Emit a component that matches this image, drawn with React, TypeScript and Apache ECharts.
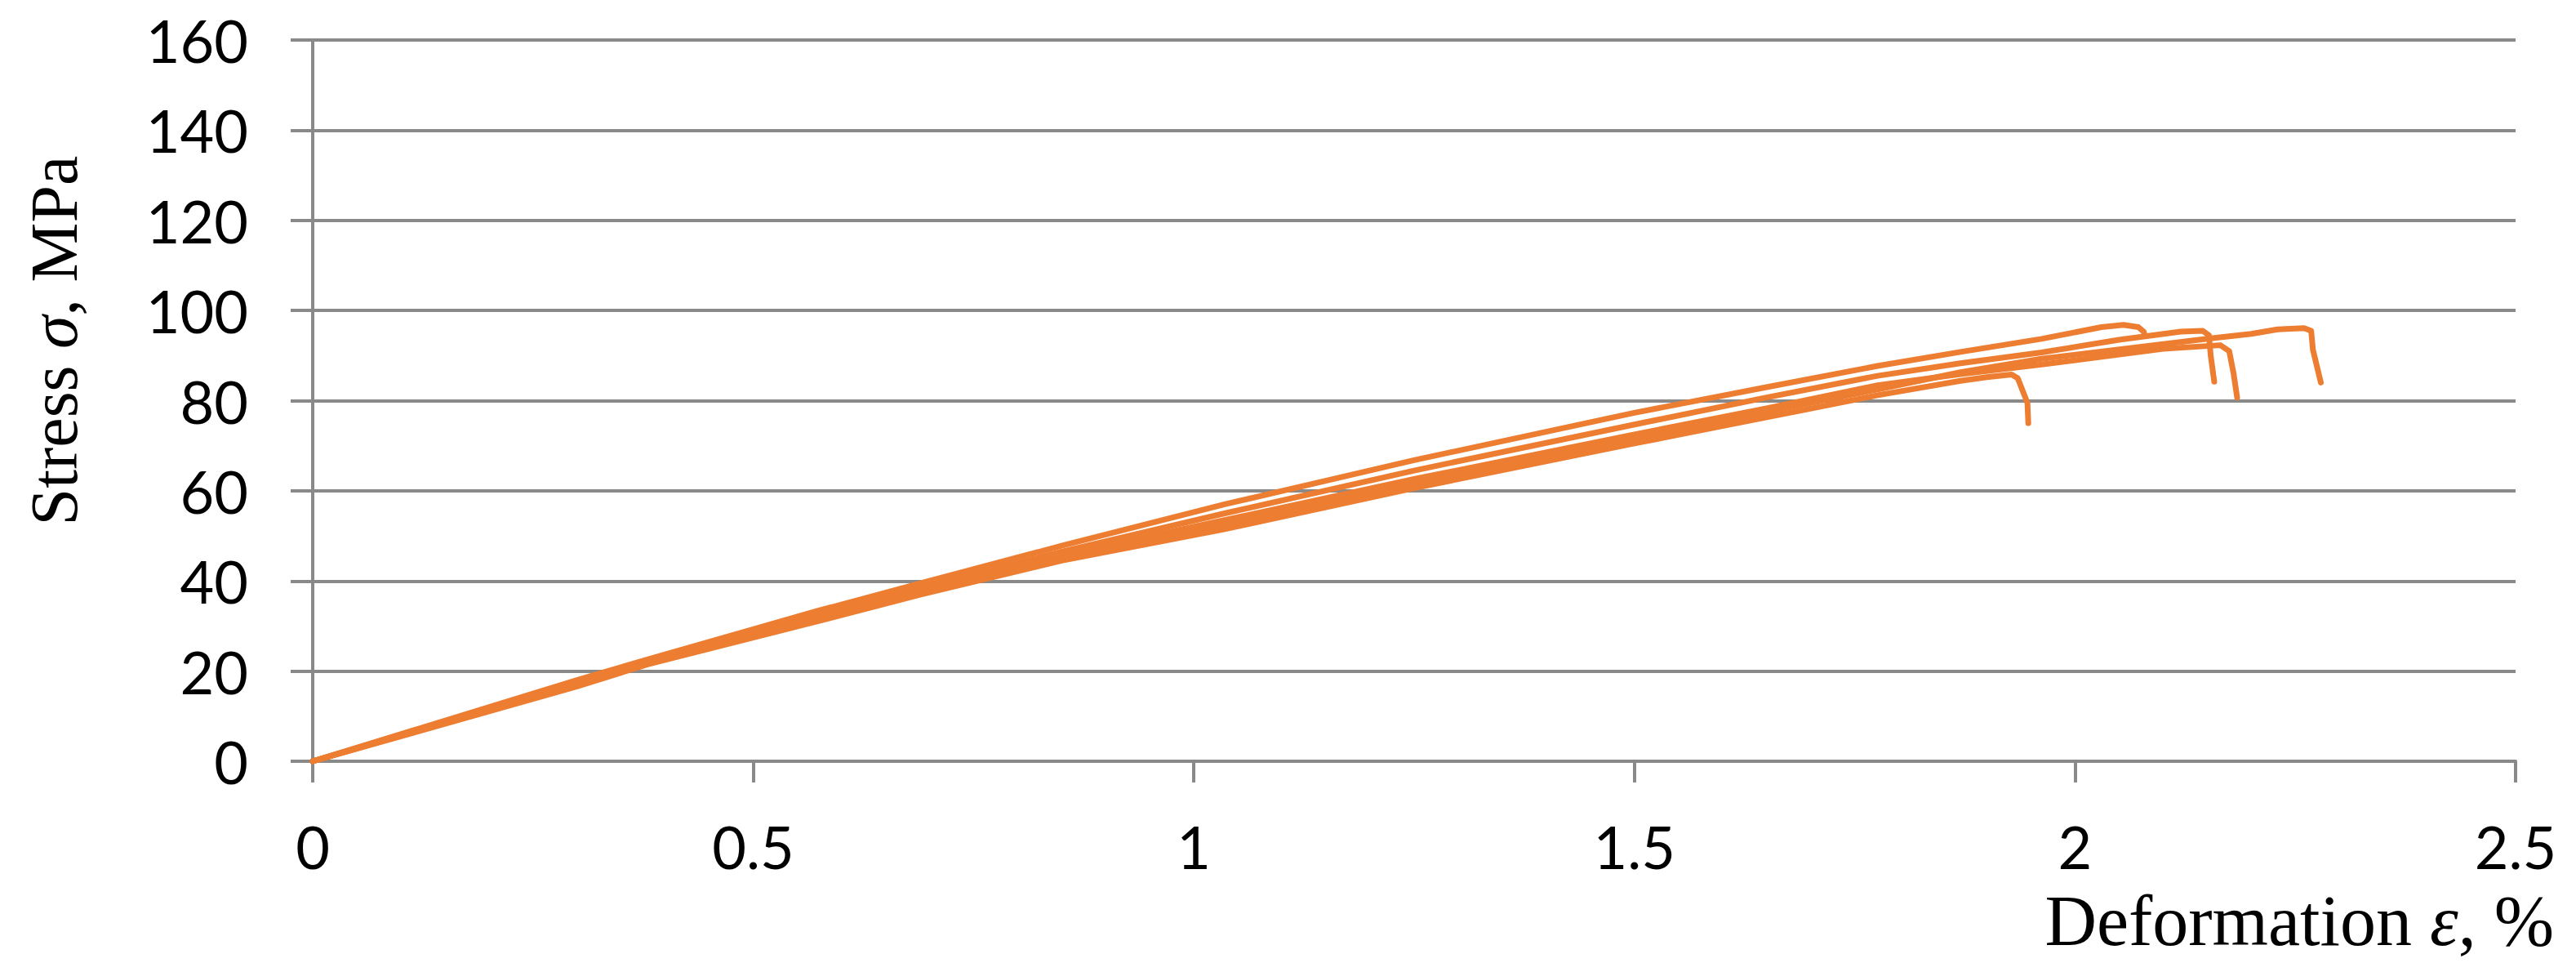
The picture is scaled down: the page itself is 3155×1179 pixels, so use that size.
import React, { useEffect, useRef } from "react";
import * as echarts from "echarts";

const xTicks = [0, 0.5, 1, 1.5, 2, 2.5];
const yTicks = [0, 20, 40, 60, 80, 100, 120, 140, 160];

const specimenA: number[][] = [
  [0, 0], [0.3, 18.0], [0.38, 22.6], [0.572, 33.3], [0.7, 40.0], [0.85, 47.8], [1.035, 57.0],
  [1.25, 66.8], [1.5, 77.3], [1.65, 83.0], [1.776, 87.7], [1.87, 90.8], [1.962, 93.7],
  [2.03, 96.3], [2.055, 96.8], [2.072, 96.3], [2.078, 95.3], [2.079, 94.5],
];
const specimenB: number[][] = [
  [0, 0], [0.3, 17.7], [0.38, 22.0], [0.572, 32.8], [0.69, 38.5], [0.85, 46.5], [1.035, 55.0],
  [1.25, 64.5], [1.5, 74.7], [1.65, 80.7], [1.776, 85.5], [1.87, 88.3], [1.962, 90.7],
  [2.05, 93.5], [2.12, 95.3], [2.145, 95.5], [2.152, 94.5], [2.154, 90.0], [2.158, 84.2],
];
const specimenC: number[][] = [
  [0, 0], [0.3, 17.3], [0.38, 21.8], [0.572, 32.0], [0.69, 37.8], [0.85, 45.7], [1.035, 53.5],
  [1.25, 62.6], [1.5, 72.5], [1.65, 78.3], [1.776, 83.4], [1.87, 85.9], [1.962, 88.0],
  [2.1, 91.5], [2.165, 92.3], [2.175, 91.0], [2.18, 86.0], [2.184, 80.7],
];
const specimenD: number[][] = [
  [0, 0], [0.3, 17.0], [0.38, 21.6], [0.572, 31.5], [0.69, 37.3], [0.85, 45.0], [1.035, 52.5],
  [1.25, 61.6], [1.5, 71.5], [1.65, 77.5], [1.776, 82.5], [1.87, 86.3], [1.962, 89.3],
  [2.154, 93.8], [2.2, 94.8], [2.23, 95.8], [2.26, 96.1], [2.268, 95.5], [2.27, 91.3], [2.279, 84.0],
];
const specimenE: number[][] = [
  [0, 0], [0.3, 16.6], [0.38, 21.5], [0.572, 31.0], [0.69, 37.0], [0.85, 44.5], [1.035, 51.5],
  [1.25, 60.6], [1.5, 70.5], [1.65, 76.3], [1.776, 81.2], [1.87, 84.4], [1.9, 85.2],
  [1.928, 85.8], [1.935, 85.0], [1.946, 79.5], [1.947, 75.0],
];

const specimens = [specimenA, specimenB, specimenC, specimenD, specimenE];

const yTitleParts = ["Stress ", "σ", ", MPa"];
const xTitleParts = ["Deformation ", "ε", ", %"];

const ORANGE = "#ED7D31";
const GRAY = "#898989";
const LABEL_FONT = "Lato, 'Open Sans', sans-serif";
const TITLE_FAMILY = "Liberation Serif";

function measure(text: string, size: number, italic: boolean): number {
  const ctx = document.createElement("canvas").getContext("2d");
  if (!ctx) return text.length * size * 0.45;
  ctx.font = `${italic ? "italic " : ""}${size}px '${TITLE_FAMILY}'`;
  return ctx.measureText(text).width;
}

export default function App() {
  const ref = useRef<HTMLDivElement>(null);

  useEffect(() => {
    document.body.style.margin = "0";
    if (!ref.current) return;
    const chart = echarts.init(ref.current, undefined, { renderer: "svg" });

    // y title: rotated, reading bottom to top, centered on (66, 417)
    const ySize = 82;
    const yW = yTitleParts.map((t, i) => measure(t, ySize, i === 1));
    const yTotal = yW.reduce((a, b) => a + b, 0);
    let yStart = 417 + yTotal / 2;
    const yTitle = yTitleParts.map((t, i) => {
      const el = {
        type: "text",
        x: 66,
        y: yStart,
        rotation: Math.PI / 2,
        style: {
          text: t,
          align: "left",
          verticalAlign: "middle",
          fontSize: ySize,
          fontFamily: TITLE_FAMILY,
          fontStyle: i === 1 ? "italic" : "normal",
          fill: "#000",
        },
      };
      yStart -= yW[i];
      return el;
    });

    // x title: right-aligned at x = 3128
    const xSize = 88;
    const xW = xTitleParts.map((t, i) => measure(t, xSize, i === 1));
    let xEnd = 3128;
    const xTitle: any[] = [];
    for (let i = xTitleParts.length - 1; i >= 0; i--) {
      xTitle.push({
        type: "text",
        x: xEnd,
        y: 1127,
        style: {
          text: xTitleParts[i],
          align: "right",
          verticalAlign: "middle",
          fontSize: xSize,
          fontFamily: TITLE_FAMILY,
          fontStyle: i === 1 ? "italic" : "normal",
          fill: "#000",
        },
      });
      xEnd -= xW[i];
    }

    chart.setOption({
      animation: false,
      backgroundColor: "#ffffff",
      grid: { left: 383, right: 74, top: 49, bottom: 247, containLabel: false },
      xAxis: {
        type: "value",
        min: xTicks[0],
        max: xTicks[xTicks.length - 1],
        interval: 0.5,
        axisLine: { show: true, lineStyle: { color: GRAY, width: 4 } },
        axisTick: { show: true, length: 26, lineStyle: { color: GRAY, width: 4 } },
        splitLine: { show: false },
        axisLabel: {
          fontSize: 72,
          color: "#000",
          fontFamily: LABEL_FONT,
          margin: 68,
        },
      },
      yAxis: {
        type: "value",
        min: yTicks[0],
        max: yTicks[yTicks.length - 1],
        interval: 20,
        axisLine: { show: true, lineStyle: { color: GRAY, width: 4 } },
        axisTick: { show: true, length: 27, lineStyle: { color: GRAY, width: 4 } },
        splitLine: { show: true, lineStyle: { color: GRAY, width: 4 } },
        axisLabel: {
          fontSize: 72,
          color: "#000",
          fontFamily: LABEL_FONT,
          margin: 79,
        },
      },
      series: specimens.map((d, i) => ({
        type: "line",
        name: "S" + (i + 1),
        data: d,
        showSymbol: false,
        symbol: "none",
        smooth: false,
        lineStyle: { color: ORANGE, width: 7, cap: "round", join: "round" },
        z: 3,
      })),
      graphic: [...yTitle, ...xTitle],
    });
    return () => chart.dispose();
  }, []);

  return (
    <div
      ref={ref}
      style={{ position: "absolute", left: 0, top: 0, width: 3155, height: 1179, background: "#fff" }}
    />
  );
}
